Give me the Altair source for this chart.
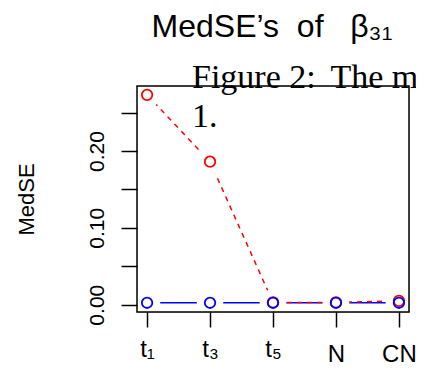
import altair as alt
import pandas as pd

# ---- data ----
categories = ["t₁", "t₃", "t₅", "N", "CN"]
positions = [1, 2, 3, 4, 5]
series_names = ["red", "blue"]
red_values = [0.273, 0.186, 0.003, 0.003, 0.005]
blue_values = [0.0025, 0.0025, 0.0025, 0.0025, 0.0025]
y_ticks = [0.0, 0.05, 0.10, 0.15, 0.20, 0.25]

title_text = "MedSE’s\u00a0\u00a0of\u00a0\u00a0\u00a0β₃₁"
y_title = "MedSE"
overlay_line1 = "Figure 2:\u2009 The me"
overlay_line2 = "1."

rows = []
for name, vals in zip(series_names, [red_values, blue_values]):
    for p, v in zip(positions, vals):
        rows.append({"series": name, "pos": p, "value": v})
df = pd.DataFrame(rows)
one = pd.DataFrame({"a": [0]})

W, H = 272, 226
SANS = "Liberation Sans"
SERIF = "Liberation Serif"

label_expr = "[" + ",".join(f"'{c}'" for c in categories) + "][datum.value - 1]"

x_enc = alt.X(
    "pos:Q",
    scale=alt.Scale(domain=[0.84, 5.16], nice=False, zero=False),
    axis=alt.Axis(
        values=positions, labelExpr=label_expr, title=None, domain=False, grid=False,
        tickSize=15, tickWidth=1.5, tickColor="black",
        labelFont=SANS, labelFontSize=24, labelColor="black",
        labelBaseline="alphabetic", labelAlign="center",
        labelPadding={"condition": {"test": "datum.value <= 3", "value": 29}, "value": 34},
        labelFlush=False, labelOverlap=False, zindex=1,
    ),
)
y_enc = alt.Y(
    "value:Q",
    scale=alt.Scale(domain=[-0.0095, 0.2845], nice=False, zero=False),
    axis=alt.Axis(
        values=y_ticks,
        labelExpr="round(datum.value*100) % 10 == 0 ? format(datum.value, '.2f') : ''",
        title=y_title, titleFont=SANS, titleFontSize=22, titleFontWeight="normal",
        titleColor="black", titleAngle=270, titleX=-104, titleY=H / 2,
        titleAlign="center", titleBaseline="alphabetic",
        domain=False, grid=False,
        tickSize=16, tickWidth=1.5, tickColor="black",
        labelFont=SANS, labelFontSize=21, labelColor="black",
        labelAngle=-90, labelAlign="center", labelBaseline="alphabetic",
        labelPadding=18, labelFlush=False, labelOverlap=False, zindex=1,
    ),
)

base = alt.Chart(df).encode(x=x_enc, y=y_enc)

blue_line = base.transform_filter("datum.series == 'blue'").mark_line(
    color="#0000FF", strokeWidth=1.5)
red_line = base.transform_filter("datum.series == 'red'").mark_line(
    color="#FF0000", strokeWidth=1.5, strokeDash=[5, 5])
halo = base.mark_point(shape="circle", filled=True, color="white", size=700,
                       opacity=1, clip=True)
red_pts = base.transform_filter("datum.series == 'red'").mark_point(
    shape="circle", filled=False, color="#FF0000", size=110, strokeWidth=1.8, opacity=1)
blue_pts = base.transform_filter("datum.series == 'blue'").mark_point(
    shape="circle", filled=False, color="#0000FF", size=110, strokeWidth=1.8, opacity=1)

box = alt.Chart(one).mark_rect(fillOpacity=0, stroke="black", strokeWidth=1.5).encode(
    x=alt.value(0), x2=alt.value(W), y=alt.value(0), y2=alt.value(H))

title_mark = alt.Chart(one).mark_text(
    text=title_text, font=SANS, fontSize=32, align="center",
    baseline="alphabetic", color="black").encode(x=alt.value(135), y=alt.value(-49))

fig1 = alt.Chart(one).mark_text(
    text=overlay_line1, font=SERIF, fontSize=34, align="left",
    baseline="alphabetic", color="black").encode(x=alt.value(55), y=alt.value(2))
fig2 = alt.Chart(one).mark_text(
    text=overlay_line2, font=SERIF, fontSize=34, align="left",
    baseline="alphabetic", color="black").encode(x=alt.value(55), y=alt.value(41))

chart = alt.layer(blue_line, red_line, halo, red_pts, blue_pts, box,
                  title_mark, fig1, fig2).properties(
    width=W, height=H,
    padding={"left": 129, "top": 78, "right": 7, "bottom": 52},
    autosize=alt.AutoSizeParams(type="none"),
).configure_view(stroke=None).configure(background="white")

chart.save("out.html", embed_options={"renderer": "svg", "actions": False})
